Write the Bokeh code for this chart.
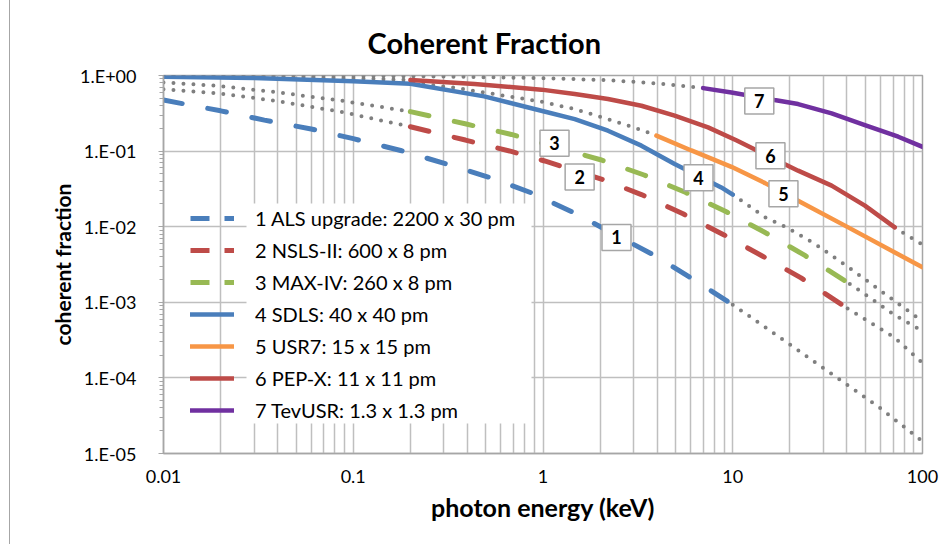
from bokeh.plotting import figure
from bokeh.models import (Range1d, FixedTicker, CustomJSTickFormatter, Legend,
                          LegendItem, ColumnDataSource, BoxAnnotation)
from bokeh.core.properties import value
from bokeh.embed import file_html
from bokeh.resources import INLINE

# ---------------- data ----------------
x_ticks = [0.01, 0.1, 1, 10, 100]
x_tick_labels = ["0.01", "0.1", "1", "10", "100"]
y_ticks = [1e-5, 1e-4, 1e-3, 1e-2, 1e-1, 1]
y_tick_labels = ["1.E-05", "1.E-04", "1.E-03", "1.E-02", "1.E-01", "1.E+00"]

# 1 ALS upgrade (dashed part, dotted continuation)
als_e = [0.01, 0.02, 0.034, 0.06, 0.1, 0.18, 0.31, 0.52, 0.87, 1.44, 3.8, 6.0, 10]
als_f = [0.473, 0.341, 0.257, 0.196, 0.146, 0.101, 0.0676, 0.045, 0.028, 0.0155, 0.00427, 0.00211, 0.00093]
als_hi_e = [10, 19.5, 31.2, 58.5, 100]
als_hi_f = [0.00093, 0.00029, 0.000126, 0.0000417, 0.0000145]

# 2 NSLS-II
nsls_lo_e = [0.01, 0.019, 0.039, 0.09, 0.2]
nsls_lo_f = [0.66, 0.585, 0.463, 0.324, 0.21]
nsls_e = [0.2, 0.39, 0.68, 1.02, 2.07, 3.3, 5.47, 8.9, 14.3, 22.9, 40.3]
nsls_f = [0.21, 0.140, 0.099, 0.074, 0.042, 0.0266, 0.0148, 0.0079, 0.0041, 0.0021, 0.00083]
nsls_hi_e = [40.3, 71.4, 100]
nsls_hi_f = [0.00083, 0.00034, 0.000158]

# 3 MAX-IV
max_lo_e = [0.01, 0.019, 0.039, 0.09, 0.2]
max_lo_f = [0.81, 0.731, 0.603, 0.458, 0.333]
max_e = [0.2, 0.394, 0.681, 2.01, 3.41, 5.62, 9.14, 14.9, 24.0, 41.4]
max_f = [0.333, 0.228, 0.166, 0.0769, 0.0483, 0.0285, 0.016, 0.0083, 0.00417, 0.00175]
max_hi_e = [41.4, 54, 71, 100]
max_hi_f = [0.00175, 0.00111, 0.000684, 0.000417]

# 4 SDLS
sdls_e = [0.01, 0.03, 0.1, 0.2, 0.49, 0.98, 1.47, 2.2, 3.3, 4.94, 8.7, 10]
sdls_f = [0.962, 0.925, 0.84, 0.776, 0.53, 0.342, 0.265, 0.186, 0.118, 0.0675, 0.0331, 0.0266]
sdls_hi_e = [10, 14.8, 19.2, 27.1, 40.6, 100]
sdls_hi_f = [0.0266, 0.0133, 0.0098, 0.00593, 0.00292, 0.00056]

# 5 USR7
usr_lo_e = [0.01, 0.03, 0.1, 0.2, 0.34, 0.6, 0.98, 1.47, 2.2, 3.3, 3.96]
usr_lo_f = [0.975, 0.945, 0.87, 0.80, 0.69, 0.55, 0.45, 0.36, 0.265, 0.19, 0.16]
usr_e = [3.96, 6.05, 9.84, 14.8, 22.1, 40.6, 100]
usr_f = [0.16, 0.102, 0.062, 0.0377, 0.0221, 0.0098, 0.0029]

# 6 PEP-X
pep_lo_e = [0.01, 0.03, 0.1, 0.2]
pep_lo_f = [0.98, 0.965, 0.925, 0.87]
pep_e = [0.2, 0.436, 0.98, 1.47, 2.2, 3.3, 4.94, 7.41, 10.5, 22.1, 33.2, 49.7, 71.4]
pep_f = [0.87, 0.77, 0.65, 0.568, 0.488, 0.398, 0.294, 0.206, 0.138, 0.0551, 0.0349, 0.019, 0.0098]
pep_hi_e = [71.4, 80.7, 100]
pep_hi_f = [0.0098, 0.0080, 0.0058]

# 7 TevUSR
tev_lo_e = [0.01, 0.1, 0.3, 0.98, 2.2, 4.05, 6.98]
tev_lo_f = [0.995, 0.99, 0.97, 0.923, 0.869, 0.783, 0.681]
tev_e = [6.98, 9.84, 16.6, 22.1, 33.2, 49.7, 74.5, 100]
tev_f = [0.681, 0.597, 0.473, 0.419, 0.315, 0.221, 0.155, 0.114]

legend_labels = ["1 ALS upgrade: 2200 x 30 pm", "2 NSLS-II: 600 x 8 pm",
                 "3 MAX-IV: 260 x 8 pm", "4 SDLS: 40 x 40 pm",
                 "5 USR7: 15 x 15 pm", "6 PEP-X: 11 x 11 pm",
                 "7 TevUSR: 1.3 x 1.3 pm"]

# curve number tags (energy, fraction)
tag_text = ["1", "2", "3", "4", "5", "6", "7"]
tag_e = [2.44, 1.56, 1.15, 6.6, 18.5, 15.8, 13.8]
tag_f = [0.0072, 0.0455, 0.127, 0.0445, 0.0272, 0.087, 0.46]

title_text = "Coherent Fraction"

# ---------------- styling ----------------
FONT = "Lato"
BLUE = "#4A7EBB"
RED = "#BE4B48"
GREEN = "#98B954"
ORANGE = "#F79646"
PURPLE = "#7030A0"
DOT = "#7F7F7F"
GRID = "#BFBFBF"
EDGE = "#A6A6A6"

p = figure(width=942, height=544, x_axis_type="log", y_axis_type="log",
           x_range=Range1d(0.01, 100), y_range=Range1d(1e-5, 1),
           output_backend="svg", toolbar_location=None,
           min_border_left=153, min_border_right=30,
           min_border_top=75, min_border_bottom=91)
p.styles = {"margin-left": "9px", "border-left": "1px solid " + EDGE}

p.title.text = title_text
p.title.text_font = FONT
p.title.text_font_size = "29px"
p.title.text_font_style = "bold"
p.title.align = "left"
p.title.offset = 204
p.title.standoff = 32
p.title.text_color = "black"

p.outline_line_color = EDGE
p.outline_line_width = 1.5

minor_x = [m * d for d in [0.01, 0.1, 1, 10] for m in range(2, 10)]
minor_y = [m * d for d in [1e-5, 1e-4, 1e-3, 1e-2, 1e-1] for m in range(2, 10)]

p.xaxis.ticker = FixedTicker(ticks=x_ticks, minor_ticks=minor_x)
p.yaxis.ticker = FixedTicker(ticks=y_ticks, minor_ticks=minor_y)
fmt_code = """
const i = tv.findIndex(t => Math.abs(Math.log10(t) - Math.log10(tick)) < 1e-6);
return i >= 0 ? tl[i] : "";
"""
p.xaxis.formatter = CustomJSTickFormatter(args=dict(tv=x_ticks, tl=x_tick_labels), code=fmt_code)
p.yaxis.formatter = CustomJSTickFormatter(args=dict(tv=y_ticks, tl=y_tick_labels), code=fmt_code)

p.xgrid.grid_line_color = GRID
p.xgrid.grid_line_width = 1.5
p.xgrid.minor_grid_line_color = GRID
p.xgrid.minor_grid_line_width = 1.5
p.ygrid.grid_line_color = GRID
p.ygrid.grid_line_width = 1.5
p.ygrid.minor_grid_line_color = None

for ax in (p.xaxis, p.yaxis):
    ax.axis_line_color = EDGE
    ax.axis_line_width = 1.5
    ax.major_label_text_font = FONT
    ax.major_label_text_font_size = "18px"
    ax.major_label_text_color = "black"
    ax.axis_label_text_font = FONT
    ax.axis_label_text_font_style = "bold"
    ax.axis_label_text_color = "black"

p.xaxis.major_tick_line_color = None
p.xaxis.minor_tick_line_color = None
p.xaxis.major_label_standoff = 10
p.xaxis.axis_label = "photon energy (keV)"
p.xaxis.axis_label_text_font_size = "25px"
p.xaxis.axis_label_standoff = 6

p.yaxis.major_tick_line_color = EDGE
p.yaxis.major_tick_out = 5
p.yaxis.major_tick_in = 0
p.yaxis.minor_tick_line_color = EDGE
p.yaxis.minor_tick_out = 4
p.yaxis.minor_tick_in = 0
p.yaxis.major_label_standoff = 22
p.yaxis.axis_label = "coherent fraction"
p.yaxis.axis_label_text_font_size = "21px"
p.yaxis.axis_label_standoff = 2

# dotted continuations
dotted = [(als_hi_e, als_hi_f), (nsls_lo_e, nsls_lo_f), (nsls_hi_e, nsls_hi_f),
          (max_lo_e, max_lo_f), (max_hi_e, max_hi_f), (sdls_hi_e, sdls_hi_f),
          (usr_lo_e, usr_lo_f), (pep_lo_e, pep_lo_f), (pep_hi_e, pep_hi_f),
          (tev_lo_e, tev_lo_f)]
for e, f in dotted:
    p.line(e, f, line_color=DOT, line_width=4, line_dash="0 10", line_cap="round")

main = [(als_e, als_f, BLUE, True), (nsls_e, nsls_f, RED, True),
        (max_e, max_f, GREEN, True), (sdls_e, sdls_f, BLUE, False),
        (usr_e, usr_f, ORANGE, False), (pep_e, pep_f, RED, False),
        (tev_e, tev_f, PURPLE, False)]
nan = float("nan")
items = []
for (e, f, c, dashed), lab in zip(main, legend_labels):
    if dashed:
        p.line(e, f, line_color=c, line_width=5, line_dash="19 26", line_cap="round")
        sample = p.line([nan], [nan], line_color=c, line_width=5, line_dash="19 15")
    else:
        sample = p.line(e, f, line_color=c, line_width=4.5, line_cap="round")
    items.append(LegendItem(label=lab, renderers=[sample]))

# number tags
tags = ColumnDataSource(dict(x=tag_e, y=tag_f, t=tag_text))
p.rect("x", "y", width=29, height=26, width_units="screen", height_units="screen",
       source=tags, fill_color="white", line_color=EDGE, line_width=1.5)
p.text("x", "y", text="t", source=tags, text_align="center", text_baseline="middle",
       text_font=value(FONT), text_font_style="bold", text_font_size="18px",
       text_color="black")

# white backing behind the legend texts only (glyph column stays transparent)
p.add_layout(BoxAnnotation(left=83, right=368, bottom=30, top=250,
                           left_units="screen", right_units="screen",
                           bottom_units="screen", top_units="screen",
                           fill_color="white", fill_alpha=1.0, line_alpha=0))

legend = Legend(items=items, location=(27, 31))
legend.background_fill_alpha = 0.0
legend.border_line_color = None
legend.label_text_font = FONT
legend.label_text_font_size = "20px"
legend.label_text_color = "black"
legend.glyph_width = 44
legend.glyph_height = 24
legend.label_height = 24
legend.spacing = 8
legend.padding = 4
legend.margin = 0
legend.label_standoff = 21
p.add_layout(legend)

open("out.html", "w").write(file_html(p, INLINE))
